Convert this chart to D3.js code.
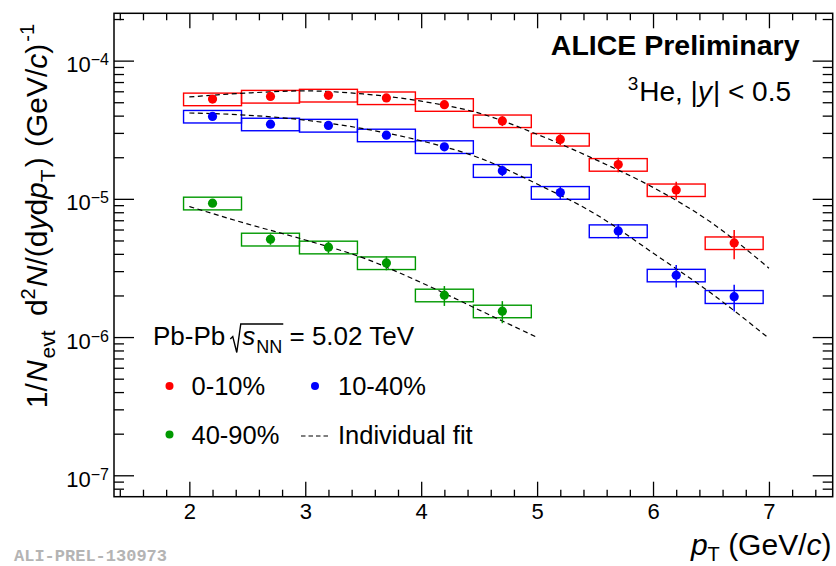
<!DOCTYPE html>
<html>
<head>
<meta charset="utf-8">
<script src="https://cdn.jsdelivr.net/npm/d3@7"></script>
<style>
  html, body { margin: 0; padding: 0; background: #fff; }
  svg { display: block; }
</style>
</head>
<body>
<svg id="chart" width="836" height="566"></svg>
<script>
// ---- data: 3He pT spectra in Pb-Pb at 5.02 TeV, three centrality classes ----
const pT = [2.2, 2.7, 3.2, 3.7, 4.2, 4.7, 5.2, 5.7, 6.2, 6.7];
const binHalfWidth = 0.25; // half width (GeV/c) of the systematic boxes

const yield0010 = [5.27e-5, 5.51e-5, 5.61e-5, 5.37e-5, 4.80e-5, 3.66e-5, 2.69e-5, 1.77e-5, 1.16e-5, 4.80e-6];
const stat0010  = [1.2e-6, 1.3e-6, 1.4e-6, 1.6e-6, 2.2e-6, 3.0e-6, 2.5e-6, 2.1e-6, 1.7e-6, 1.15e-6];
const syst0010  = [5.5e-6, 5.8e-6, 5.9e-6, 5.6e-6, 5.0e-6, 3.8e-6, 2.8e-6, 1.85e-6, 1.2e-6, 5.0e-7];

const yield1040 = [3.95e-5, 3.47e-5, 3.40e-5, 2.89e-5, 2.38e-5, 1.60e-5, 1.11e-5, 5.86e-6, 2.80e-6, 1.96e-6];
const stat1040  = [1.0e-6, 1.0e-6, 1.1e-6, 1.2e-6, 1.3e-6, 1.4e-6, 1.15e-6, 7.0e-7, 5.2e-7, 4.3e-7];
const syst1040  = [4.1e-6, 3.6e-6, 3.6e-6, 3.0e-6, 2.5e-6, 1.7e-6, 1.17e-6, 6.2e-7, 2.9e-7, 2.1e-7];

const pT4090    = [2.2, 2.7, 3.2, 3.7, 4.2, 4.7];
const yield4090 = [9.30e-6, 5.10e-6, 4.47e-6, 3.44e-6, 2.01e-6, 1.54e-6];
const stat4090  = [3.0e-7, 4.5e-7, 4.4e-7, 4.0e-7, 3.3e-7, 2.8e-7];
const syst4090  = [9.8e-7, 5.4e-7, 4.7e-7, 3.6e-7, 2.1e-7, 1.6e-7];

// individual fit functions, sampled along pT
const fitPt     = [2.0, 2.5, 3.0, 3.5, 4.0, 4.5, 5.0, 5.5, 6.0, 6.5, 7.0];
const fit0010   = [5.46e-5, 5.83e-5, 6.04e-5, 5.74e-5, 5.09e-5, 4.17e-5, 2.93e-5, 1.93e-5, 1.21e-5, 6.76e-6, 3.15e-6];
const fit1040   = [4.18e-5, 4.03e-5, 3.71e-5, 3.22e-5, 2.63e-5, 1.98e-5, 1.28e-5, 7.79e-6, 4.06e-6, 2.08e-6, 9.79e-7];
const fitPt4090 = [2.0, 2.5, 3.0, 3.5, 4.0, 4.5, 5.0];
const fit4090   = [8.80e-6, 6.59e-6, 5.04e-6, 3.74e-6, 2.48e-6, 1.57e-6, 9.95e-7];

const xMajor = [2, 3, 4, 5, 6, 7];
const yDecades = [1e-7, 1e-6, 1e-5, 1e-4];
const centralityLabels = ["0-10%", "10-40%", "40-90%"];

// ---- layout ----
const W = 836, H = 566;
const frame = { left: 114, top: 13.3, right: 832.7, bottom: 496.7 };
const FONT = '"Liberation Sans", Arial, Helvetica, sans-serif';
const MONO = '"Liberation Mono", "DejaVu Sans Mono", monospace';
const colors = ["#ff0000", "#0000ff", "#009900"];

const svg = d3.select("#chart").attr("font-family", FONT);
svg.append("rect").attr("width", W).attr("height", H).attr("fill", "#fff");

const x = d3.scaleLinear().domain([1.35, 7.55]).range([frame.left, frame.right]);
const y = d3.scaleLog().domain([7e-8, 2.2e-4]).range([frame.bottom, frame.top]);

// ---- axes (ticks point inwards on all four sides) ----
const xMinor = d3.range(1.4, 7.55, 0.2).map(v => +v.toFixed(1)).filter(v => !xMajor.includes(v));
const yMinor = [];
for (let e = -8; e <= -4; e++) for (let m = 2; m <= 9; m++) {
  const v = m * Math.pow(10, e);
  if (v > 7.01e-8 && v < 2.2e-4) yMinor.push(v);
}

function styleAxis(g) {
  g.select(".domain").remove();
  g.selectAll(".tick line").attr("stroke", "#000").attr("stroke-width", 1.3);
  g.attr("font-family", FONT);
}

const gB = svg.append("g").attr("transform", `translate(0,${frame.bottom})`)
  .call(d3.axisBottom(x).tickValues(xMajor).tickSize(-15).tickPadding(7).tickFormat(d3.format("d")));
styleAxis(gB);
gB.attr("font-size", 22);
gB.selectAll(".tick text").attr("fill", "#000");
svg.append("g").attr("transform", `translate(0,${frame.bottom})`)
  .call(d3.axisBottom(x).tickValues(xMinor).tickSize(-7).tickFormat("")).call(styleAxis);

svg.append("g").attr("transform", `translate(0,${frame.top})`)
  .call(d3.axisTop(x).tickValues(xMajor).tickSize(-15).tickFormat("")).call(styleAxis);
svg.append("g").attr("transform", `translate(0,${frame.top})`)
  .call(d3.axisTop(x).tickValues(xMinor).tickSize(-7).tickFormat("")).call(styleAxis);

const gL = svg.append("g").attr("transform", `translate(${frame.left},0)`)
  .call(d3.axisLeft(y).tickValues(yDecades).tickSize(-20).tickPadding(5));
styleAxis(gL);
gL.attr("font-size", 22);
gL.selectAll(".tick text").each(function (d) {
  const e = Math.round(Math.log10(d));
  const t = d3.select(this).text(null).attr("dy", null).attr("y", 11).attr("fill", "#000");
  t.append("tspan").text("10");
  t.append("tspan").attr("dy", -7).attr("font-size", 16).text("\u2212" + Math.abs(e));
});
svg.append("g").attr("transform", `translate(${frame.left},0)`)
  .call(d3.axisLeft(y).tickValues(yMinor).tickSize(-10).tickFormat("")).call(styleAxis);

svg.append("g").attr("transform", `translate(${frame.right},0)`)
  .call(d3.axisRight(y).tickValues(yDecades).tickSize(-20).tickFormat("")).call(styleAxis);
svg.append("g").attr("transform", `translate(${frame.right},0)`)
  .call(d3.axisRight(y).tickValues(yMinor).tickSize(-10).tickFormat("")).call(styleAxis);

svg.append("rect")
  .attr("x", frame.left).attr("y", frame.top)
  .attr("width", frame.right - frame.left).attr("height", frame.bottom - frame.top)
  .attr("fill", "none").attr("stroke", "#000").attr("stroke-width", 1.5);

// ---- rich text helper: runs of text laid out one after the other ----
function richText(parent, runs, opt) {
  const outer = parent.append("g")
    .attr("transform", `translate(${opt.x},${opt.y}) rotate(${opt.rotate || 0})`);
  const inner = outer.append("g");
  let cx = 0;
  const placed = [];
  runs.forEach(r => {
    cx += r.gap || 0;
    const t = inner.append("text")
      .attr("x", cx).attr("y", r.shift || 0)
      .attr("font-size", r.size || opt.size)
      .attr("font-style", r.italic ? "italic" : null)
      .attr("font-weight", r.bold || opt.bold ? "bold" : null)
      .attr("fill", opt.fill || "#000")
      .style("white-space", "pre")
      .text(r.t);
    const w = t.node().getComputedTextLength();
    placed.push({ x0: cx, x1: cx + w });
    cx += w;
  });
  const off = opt.anchor === "end" ? -cx : opt.anchor === "middle" ? -cx / 2 : 0;
  inner.attr("transform", `translate(${off},0)`);
  return { inner, placed, width: cx };
}

// ---- axis titles ----
richText(svg, [
  { t: "p", italic: true },
  { t: "T", size: 20, shift: 6 },
  { t: " (GeV/" },
  { t: "c", italic: true },
  { t: ")" }
], { x: 831.5, y: 555, size: 30, anchor: "end" });

richText(svg, [
  { t: "1/" },
  { t: "N", italic: true, gap: 1 },
  { t: "evt", size: 21, shift: 8, gap: 2 },
  { t: " d", gap: 6 },
  { t: "2", size: 20, shift: -12 },
  { t: "N", italic: true, gap: 1 },
  { t: "/(d" },
  { t: "y", italic: true },
  { t: "d" },
  { t: "p", italic: true },
  { t: "T", size: 21, shift: 8 },
  { t: ")", gap: 2 },
  { t: " (GeV/", gap: 2 },
  { t: "c", italic: true },
  { t: ")" },
  { t: "-1", size: 20, shift: -13, gap: 2 }
], { x: 47, y: 216, size: 30, anchor: "middle", rotate: -90 });

// ---- header texts ----
richText(svg, [{ t: "ALICE Preliminary" }],
  { x: 799.5, y: 55, size: 28.5, bold: true, anchor: "end" });

richText(svg, [
  { t: "3", size: 19, shift: -11 },
  { t: "He, |", gap: 1 },
  { t: "y", italic: true },
  { t: "| < 0.5", gap: 1 }
], { x: 791, y: 101, size: 28, anchor: "end" });

// ---- systematic boxes ----
const series = [
  { p: pT, v: yield0010, st: stat0010, sy: syst0010, fx: fitPt, fv: fit0010, c: colors[0] },
  { p: pT, v: yield1040, st: stat1040, sy: syst1040, fx: fitPt, fv: fit1040, c: colors[1] },
  { p: pT4090, v: yield4090, st: stat4090, sy: syst4090, fx: fitPt4090, fv: fit4090, c: colors[2] }
];

const plot = svg.append("g");
series.forEach(s => {
  const rows = s.p.map((p, i) => ({ p, v: s.v[i], st: s.st[i], sy: s.sy[i] }));
  plot.append("g").selectAll("rect").data(rows).join("rect")
    .attr("x", d => x(d.p - binHalfWidth))
    .attr("width", d => x(d.p + binHalfWidth) - x(d.p - binHalfWidth))
    .attr("y", d => y(d.v + d.sy))
    .attr("height", d => y(d.v - d.sy) - y(d.v + d.sy))
    .attr("fill", "none").attr("stroke", s.c).attr("stroke-width", 1.4);
});

// ---- fit curves ----
const fitLine = d3.line().x(d => x(d[0])).y(d => y(d[1])).curve(d3.curveMonotoneX);
series.forEach(s => {
  plot.append("path")
    .attr("d", fitLine(s.fx.map((p, i) => [p, s.fv[i]])))
    .attr("fill", "none").attr("stroke", "#000").attr("stroke-width", 1.2)
    .attr("stroke-dasharray", "5,3.5");
});

// ---- statistical error bars and markers ----
series.forEach(s => {
  const rows = s.p.map((p, i) => ({ p, v: s.v[i], st: s.st[i] }));
  const g = plot.append("g");
  g.selectAll("line").data(rows).join("line")
    .attr("x1", d => x(d.p)).attr("x2", d => x(d.p))
    .attr("y1", d => y(d.v + d.st)).attr("y2", d => y(d.v - d.st))
    .attr("stroke", s.c).attr("stroke-width", 1.5);
  g.selectAll("circle").data(rows).join("circle")
    .attr("cx", d => x(d.p)).attr("cy", d => y(d.v)).attr("r", 4.6)
    .attr("fill", s.c);
});

// ---- legend ----
const pb = richText(svg, [
  { t: "Pb-Pb" },
  { t: "s", italic: true, gap: 17 },
  { t: "NN", size: 18, shift: 8, gap: 1 },
  { t: " = 5.02 TeV" }
], { x: 153, y: 345, size: 26 });
{
  const r0 = pb.placed[0].x1 + 5;
  const rEnd = pb.placed[2].x1 + 1;
  pb.inner.append("path")
    .attr("d", `M${r0},-6 L${r0 + 2.5},-8.5 L${r0 + 6.5},7.5 L${r0 + 10.5},-21 L${rEnd},-21`)
    .attr("fill", "none").attr("stroke", "#000").attr("stroke-width", 1.4);
}

const legendRows = [
  { label: centralityLabels[0], c: colors[0], mx: 169.5, tx: 191.5, yb: 395 },
  { label: centralityLabels[1], c: colors[1], mx: 315, tx: 338, yb: 395 },
  { label: centralityLabels[2], c: colors[2], mx: 169.5, tx: 191.5, yb: 443.5 }
];
const lg = svg.append("g");
legendRows.forEach(r => {
  lg.append("circle").attr("cx", r.mx).attr("cy", r.yb - 9).attr("r", 4).attr("fill", r.c);
  lg.append("text").attr("x", r.tx).attr("y", r.yb).attr("font-size", 25.5).text(r.label);
});
lg.append("line").attr("x1", 301).attr("x2", 331).attr("y1", 436).attr("y2", 436)
  .attr("stroke", "#000").attr("stroke-width", 1.2).attr("stroke-dasharray", "4.5,3");
lg.append("text").attr("x", 338).attr("y", 443.5).attr("font-size", 25.5).text("Individual fit");

// ---- figure id ----
svg.append("text").attr("x", 14).attr("y", 561)
  .attr("font-family", MONO)
  .attr("font-weight", "bold").attr("font-size", 17).attr("fill", "#b4b4b4")
  .text("ALI-PREL-130973");
</script>
</body>
</html>
